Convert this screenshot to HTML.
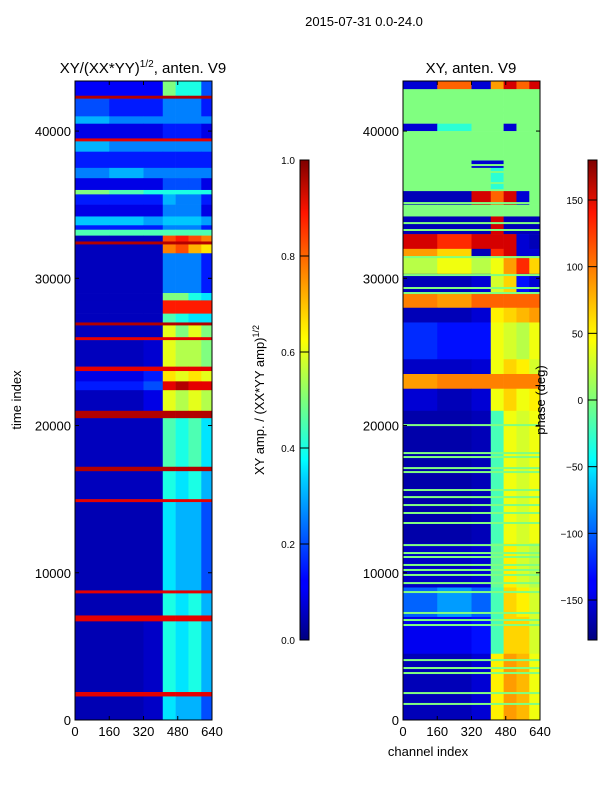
<!DOCTYPE html>
<html><head><meta charset="utf-8"><style>
body{margin:0;background:#fff;font-family:"Liberation Sans","DejaVu Sans",sans-serif}
svg text{font-family:"Liberation Sans","DejaVu Sans",sans-serif;fill:#000}
</style></head><body>
<svg id="fig" width="600" height="800" xmlns="http://www.w3.org/2000/svg">
<defs>
<linearGradient id="jet" x1="0" y1="1" x2="0" y2="0">
<stop offset="0" stop-color="#00007f"/><stop offset="0.11" stop-color="#0000ff"/><stop offset="0.125" stop-color="#0000ff"/>
<stop offset="0.34" stop-color="#00d4ff"/><stop offset="0.375" stop-color="#00ffff"/><stop offset="0.5" stop-color="#7dff7a"/>
<stop offset="0.625" stop-color="#ffff00"/><stop offset="0.66" stop-color="#ffe500"/><stop offset="0.89" stop-color="#ff1400"/>
<stop offset="1" stop-color="#7f0000"/></linearGradient>
</defs>
<text x="364" y="26" font-size="13" text-anchor="middle">2015-07-31 0.0-24.0</text>
<text x="143" y="73" font-size="15" text-anchor="middle">XY/(XX*YY)<tspan font-size="10" dy="-6">1/2</tspan><tspan dy="6">, anten. V9</tspan></text>
<text x="471" y="73" font-size="15" text-anchor="middle">XY, anten. V9</text>
<g id="left"></g>
<g id="right"></g>
<text transform="translate(21,400) rotate(-90)" font-size="13" text-anchor="middle">time index</text>
<text x="428" y="756" font-size="13" text-anchor="middle">channel index</text>
<rect x="300" y="160" width="9" height="480" fill="url(#jet)" stroke="#000"/>
<rect x="588" y="160" width="9" height="480" fill="url(#jet)" stroke="#000"/>
<text transform="translate(264,400) rotate(-90)" font-size="13" text-anchor="middle">XY amp. / (XX*YY amp)<tspan font-size="9" dy="-5">1/2</tspan></text>
<text transform="translate(545,400) rotate(-90)" font-size="13" text-anchor="middle">phase (deg)</text>
<g id="cbticks"></g>
</svg>
<script>
const channelEdges=[0,160,320,410,470,530,590,640];
const leftRows=[
[43400,42400,[.12,.12,.12,.5,.4,.4,.2]],[42400,42200,[.95,.95,.95,.95,.95,.95,.95]],
[42200,41000,[.2,.15,.15,.25,.25,.25,.15]],[41000,40500,[.3,.25,.25,.25,.25,.25,.25]],
[40500,39500,[.1,.1,.1,.15,.15,.15,.1]],[39500,39300,[.9,.9,.9,.9,.9,.9,.9]],
[39300,38600,[.3,.25,.25,.25,.25,.25,.25]],[38600,37500,[.15,.15,.15,.15,.15,.15,.15]],
[37500,36800,[.25,.3,.25,.25,.25,.25,.25]],[36800,36000,[.1,.1,.1,.2,.2,.2,.1]],
[36000,35700,[.5,.45,.4,.4,.4,.4,.4]],[35700,35000,[.15,.15,.15,.3,.25,.25,.15]],
[35000,34200,[.1,.1,.1,.25,.25,.25,.1]],[34200,33600,[.32,.32,.28,.32,.32,.32,.28]],
[33600,33300,[.15,.15,.15,.25,.25,.25,.15]],[33300,32900,[.45,.45,.45,.45,.45,.45,.45]],
[32900,32500,[.06,.06,.06,.8,.85,.8,.75]],[32500,32300,[.95,.95,.95,.95,.95,.95,.95]],
[32300,31700,[.06,.06,.06,.75,.8,.7,.65]],[31700,29000,[.06,.06,.06,.25,.25,.25,.15]],
[29000,28500,[.06,.06,.06,.5,.5,.4,.35]],[28500,27600,[.06,.06,.06,.85,.85,.85,.85]],
[27600,27000,[.06,.06,.06,.45,.4,.35,.35]],[27000,26800,[.95,.95,.95,.95,.95,.95,.95]],
[26800,26000,[.06,.06,.06,.6,.5,.6,.5]],[26000,25800,[.9,.9,.9,.9,.9,.9,.9]],
[25800,24000,[.06,.06,.08,.6,.55,.55,.5]],[24000,23700,[.9,.9,.9,.9,.9,.9,.9]],
[23700,23000,[.1,.1,.15,.65,.6,.65,.6]],[23000,22400,[.15,.15,.2,.9,.95,.9,.9]],
[22400,21000,[.06,.06,.1,.6,.55,.6,.55]],[21000,20500,[.95,.95,.95,.95,.95,.95,.95]],
[20500,17200,[.06,.06,.06,.45,.4,.45,.35]],[17200,16900,[.95,.95,.95,.95,.95,.95,.95]],
[16900,15000,[.06,.06,.06,.4,.35,.4,.3]],[15000,14800,[.9,.9,.9,.9,.9,.9,.9]],
[14800,8800,[.05,.05,.05,.35,.3,.3,.2]],[8800,8600,[.9,.9,.9,.9,.9,.9,.9]],
[8600,7100,[.05,.05,.05,.4,.35,.4,.3]],[7100,6700,[.9,.9,.9,.9,.9,.9,.9]],
[6700,1900,[.05,.05,.07,.4,.35,.4,.3]],[1900,1600,[.9,.9,.9,.9,.9,.9,.9]],
[1600,0,[.05,.05,.07,.35,.3,.3,.2]]];
const rightRows=[
[43400,42800,[-150,100,-150,80,150,100,150]],[42800,40500,[0,0,0,0,0,0,0]],
[40500,40000,[-150,-30,0,0,-150,0,0]],[40000,38000,[0,0,0,0,0,0,0]],
[38000,37500,[0,0,-150,-150,0,0,0]],[37500,36000,[0,0,0,-30,0,0,0]],
[36000,35000,[-160,-160,150,100,150,-150,0]],[35000,34200,[0,0,0,0,0,0,0]],
[34200,33000,[-160,-160,-160,150,-160,-160,-160]],[33000,32000,[150,120,150,150,150,-150,-160]],
[32000,31500,[80,60,-160,120,150,-150,-150]],[31500,30300,[20,40,20,40,80,120,60]],
[30300,29000,[-160,-160,-150,30,60,-130,-150]],[29000,28000,[90,80,100,100,100,100,100]],
[28000,27000,[-160,-160,-150,50,60,70,80]],[27000,24500,[-120,-130,-130,40,30,20,40]],
[24500,23500,[-155,-155,-150,40,60,50,30]],[23500,22500,[80,90,90,90,90,90,90]],
[22500,21000,[-150,-160,-150,40,60,40,50]],[21000,12000,[-165,-165,-160,-20,40,30,40]],
[12000,9000,[-155,-155,-150,-10,50,30,20]],[9000,7000,[-100,-80,-100,-20,60,50,30]],
[7000,4500,[-140,-140,-130,-20,60,60,30]],[4500,0,[-160,-160,-150,50,80,70,40]]];
const rightLineTimes=[42780,41630,41220,39520,38230,37690,37220,36470,35990,35110,33750,33280,31440,30220,29340,29000,20030,18130,17860,17110,16840,15620,15140,14600,14060,13380,11880,11340,11070,10530,10190,9850,9300,8690,7270,6790,6450,4070,3530,3190,1830,1090];
const xTicks=[0,160,320,480,640];
const yTicks=[0,10000,20000,30000,40000];
const ampTicks=["0.0","0.2","0.4","0.6","0.8","1.0"];
const phaseTicks=[-150,-100,-50,0,50,100,150];

const NS="http://www.w3.org/2000/svg";
const Y0=720,Y1=81,TMAX=43400;
const yScale=t=>Y0-(t/TMAX)*(Y0-Y1);
function jet(v){v=Math.max(0,Math.min(1,v));
 const r=Math.max(0,Math.min(1,1.5-Math.abs(4*v-3))),g=Math.max(0,Math.min(1,1.5-Math.abs(4*v-2))),b=Math.max(0,Math.min(1,1.5-Math.abs(4*v-1)));
 return `rgb(${Math.round(r*255)},${Math.round(g*255)},${Math.round(b*255)})`;}
function mk(tag,at,parent){const e=document.createElementNS(NS,tag);for(const k in at)e.setAttribute(k,at[k]);parent.appendChild(e);return e;}
function panel(gid,X0,rows,norm,lines){
 const g=document.getElementById(gid),W=137;
 const xs=c=>X0+c/640*W;
 rows.forEach(r=>{r[2].forEach((v,i)=>{
  const y=yScale(r[0]),h=yScale(r[1])-y;
  const e=mk('rect',{x:xs(channelEdges[i]),y:y,width:xs(channelEdges[i+1])-xs(channelEdges[i])+0.3,height:h+0.3,fill:jet(norm(v))},g);
  
  
 });});
 (lines||[]).forEach(t=>{const e=mk('rect',{x:X0,y:yScale(t)-1,width:W,height:2,fill:jet(0.5)},g);
  
  });
 const fr=mk('rect',{x:X0,y:Y1,width:W,height:Y0-Y1,fill:'none',stroke:'#000'},g);
 
 
 xTicks.forEach(t=>{const x=xs(t);mk('line',{x1:x,x2:x,y1:Y0,y2:Y0-4,stroke:'#000'},g);mk('line',{x1:x,x2:x,y1:Y1,y2:Y1+4,stroke:'#000'},g);
  const tx=mk('text',{x:x,y:Y0+16,'font-size':13,'text-anchor':'middle'},g);tx.textContent=t;
  
  });
 yTicks.forEach(t=>{const y=yScale(t);mk('line',{x1:X0,x2:X0+4,y1:y,y2:y,stroke:'#000'},g);mk('line',{x1:X0+W,x2:X0+W-4,y1:y,y2:y,stroke:'#000'},g);
  const tx=mk('text',{x:X0-4,y:y+5,'font-size':13,'text-anchor':'end'},g);tx.textContent=t;
  
  });
}
panel('left',75,leftRows,v=>v,null);
panel('right',403,rightRows,v=>(v+180)/360,rightLineTimes);
const cb=document.getElementById('cbticks');
ampTicks.forEach((t,i)=>{const y=640-i*96;mk('line',{x1:300,x2:309,y1:y,y2:y,stroke:'#000'},cb);
 const tx=mk('text',{x:295,y:y+4,'font-size':10,'text-anchor':'end'},cb);tx.textContent=t;
 
 });
phaseTicks.forEach(t=>{const y=640-(t+180)/360*480;mk('line',{x1:588,x2:597,y1:y,y2:y,stroke:'#000'},cb);
 const tx=mk('text',{x:583,y:y+4,'font-size':10,'text-anchor':'end'},cb);tx.textContent=t===0?"0":(t<0?"\u2212"+(-t):t);
 
 });
</script>
</body></html>
